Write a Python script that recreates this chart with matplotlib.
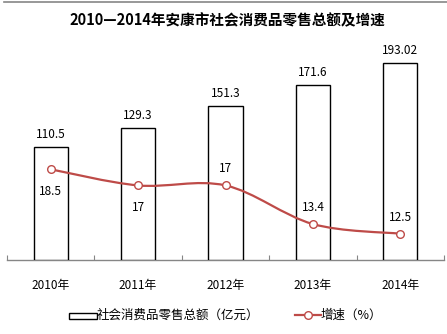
import numpy as np
import matplotlib.pyplot as plt
from matplotlib.path import Path
from matplotlib.patches import PathPatch, Rectangle
from matplotlib.lines import Line2D

plt.rcParams['font.family'] = ['Noto Sans CJK SC', 'DejaVu Sans']

years = ['2010年', '2011年', '2012年', '2013年', '2014年']
sales = [110.5, 129.3, 151.3, 171.6, 193.02]
growth = [18.5, 17, 17, 13.4, 12.5]
sales_text = ['110.5', '129.3', '151.3', '171.6', '193.02']
growth_text = ['18.5', '17', '17', '13.4', '12.5']
growth_below = [True, True, False, False, False]

red = '#BE4B48'
grey = '#868686'

W, H = 447, 334
fig = plt.figure(figsize=(W / 100, H / 100), dpi=100)
ax = fig.add_axes([7 / W, (H - 260) / H, 437 / W, 220 / H])
ax2 = ax.twinx()

x = np.arange(len(years))
ax.bar(x, sales, width=0.39, color='white', edgecolor='black', linewidth=1.0, zorder=3)
ax.set_xlim(-0.5, len(years) - 0.5)
ax.set_ylim(0, 216)
ax2.set_ylim(10.05, 30.55)

for xi, v, t in zip(x, sales, sales_text):
    ax.annotate(t, (xi, v), xytext=(0, 9), textcoords='offset points',
                ha='center', va='center', fontsize=8.5)

# smoothed growth line: Catmull-Rom segments drawn as cubic Beziers
pts = np.column_stack([x, growth]).astype(float)
ext = np.vstack([pts[0], pts, pts[-1]])
verts = [tuple(pts[0])]
codes = [Path.MOVETO]
for i in range(len(pts) - 1):
    p0, p1, p2, p3 = ext[i], ext[i + 1], ext[i + 2], ext[i + 3]
    c1 = p1 + (p2 - p0) / 6
    c2 = p2 - (p3 - p1) / 6
    verts += [tuple(c1), tuple(c2), tuple(p2)]
    codes += [Path.CURVE4] * 3
ax2.add_patch(PathPatch(Path(verts, codes), facecolor='none', edgecolor=red,
                        linewidth=1.6, zorder=3))
ax2.plot(x, growth, linestyle='none', marker='o', markersize=5.5,
         markerfacecolor='white', markeredgecolor=red, markeredgewidth=1.0, zorder=4)

for xi, v, t, below in zip(x, growth, growth_text, growth_below):
    dy = -16 if below else 12
    ax2.annotate(t, (xi, v), xytext=(0, dy), textcoords='offset points',
                 ha='center', va='center', fontsize=8.5)

for a in (ax, ax2):
    for s in ('top', 'left', 'right', 'bottom'):
        a.spines[s].set_visible(False)
ax2.set_yticks([])
ax.set_yticks([])
ax.spines['bottom'].set_visible(True)
ax.spines['bottom'].set_color(grey)
ax.spines['bottom'].set_linewidth(1.0)
ax.set_xticks(np.arange(-0.5, len(years)))
ax.set_xticklabels([])
ax.tick_params(axis='x', direction='in', length=3.5, color=grey, width=0.8)
ax.set_xticks(x, minor=True)
ax.set_xticklabels(years, minor=True, fontsize=8.5)
ax.tick_params(axis='x', which='minor', length=0, pad=14)

fig.text(227 / W, 1 - 20 / H, '2010—2014年安康市社会消费品零售总额及增速',
         ha='center', va='center', fontsize=10.5, fontweight='bold')

# top frame line
fig.add_artist(Line2D([4 / W, 1], [1 - 1.5 / H, 1 - 1.5 / H], color=grey, linewidth=1.2))

# legend
fig.add_artist(Rectangle((69 / W, 1 - 319 / H), 28 / W, 6 / H, facecolor='white',
                         edgecolor='black', linewidth=1.0))
fig.text(97 / W, 1 - 315 / H, '社会消费品零售总额（亿元）', ha='left', va='center', fontsize=9)
fig.add_artist(Line2D([295 / W, 321 / W], [1 - 315 / H, 1 - 315 / H], color=red, linewidth=1.6))
fig.add_artist(Line2D([308 / W], [1 - 315 / H], marker='o', markersize=5.5,
                      markerfacecolor='white', markeredgecolor=red, markeredgewidth=1.0))
fig.text(321 / W, 1 - 315 / H, '增速（%）', ha='left', va='center', fontsize=9)

fig.savefig('out.png', dpi=100)
